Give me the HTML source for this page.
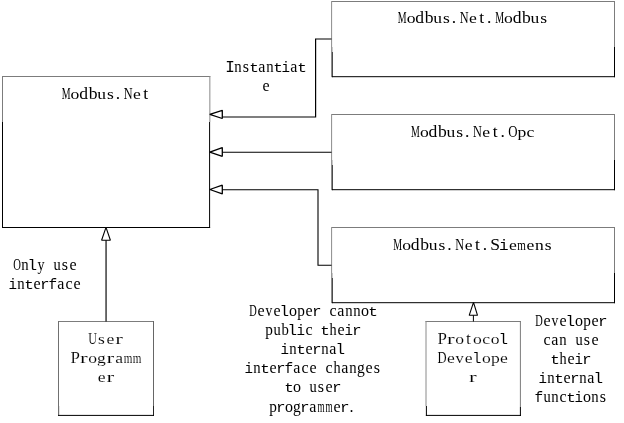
<!DOCTYPE html>
<html><head><meta charset="utf-8"><style>
html,body{margin:0;padding:0;background:#fff;}
body{width:624px;height:423px;overflow:hidden;}
svg{display:block;filter:grayscale(1);}
</style></head><body>
<svg width="624" height="423" viewBox="0 0 624 423" shape-rendering="auto" font-family="'Liberation Serif', serif">
<rect width="624" height="423" fill="#fff"/>
<line x1="2" y1="76.5" x2="210.3" y2="76.5" stroke="#7c7c7c" stroke-width="1.0"/>
<line x1="2.5" y1="76" x2="2.5" y2="122" stroke="#7c7c7c" stroke-width="1.0"/>
<line x1="209.85" y1="76" x2="209.85" y2="122" stroke="#8a8a8a" stroke-width="1.0"/>
<line x1="2.5" y1="122" x2="2.5" y2="228" stroke="#000" stroke-width="1.0"/>
<line x1="209.6" y1="122" x2="209.6" y2="228" stroke="#000" stroke-width="1.0"/>
<line x1="2" y1="227.5" x2="210.1" y2="227.5" stroke="#000" stroke-width="1.0"/>
<line x1="331.3" y1="1.5" x2="615" y2="1.5" stroke="#7c7c7c" stroke-width="1.0"/>
<line x1="331.6" y1="1.5" x2="331.6" y2="76.7" stroke="#8c8c8c" stroke-width="1.0"/>
<line x1="614.5" y1="1.5" x2="614.5" y2="47" stroke="#7c7c7c" stroke-width="1.0"/>
<line x1="332.5" y1="47" x2="332.5" y2="52" stroke="#c8c8c8" stroke-width="1.0"/>
<line x1="332.4" y1="52" x2="332.4" y2="77.2" stroke="#383838" stroke-width="1.0"/>
<line x1="614.5" y1="47" x2="614.5" y2="77.2" stroke="#000" stroke-width="1.0"/>
<line x1="331.8" y1="76.7" x2="615" y2="76.7" stroke="#000" stroke-width="1.0"/>
<line x1="331.3" y1="114.5" x2="615" y2="114.5" stroke="#7c7c7c" stroke-width="1.0"/>
<line x1="331.6" y1="114.5" x2="331.6" y2="189.7" stroke="#8c8c8c" stroke-width="1.0"/>
<line x1="614.5" y1="114.5" x2="614.5" y2="160" stroke="#7c7c7c" stroke-width="1.0"/>
<line x1="332.5" y1="160" x2="332.5" y2="165" stroke="#c8c8c8" stroke-width="1.0"/>
<line x1="332.4" y1="165" x2="332.4" y2="190.2" stroke="#383838" stroke-width="1.0"/>
<line x1="614.5" y1="160" x2="614.5" y2="190.2" stroke="#000" stroke-width="1.0"/>
<line x1="331.8" y1="189.7" x2="615" y2="189.7" stroke="#000" stroke-width="1.0"/>
<line x1="331.3" y1="227.5" x2="615" y2="227.5" stroke="#7c7c7c" stroke-width="1.0"/>
<line x1="331.6" y1="227.5" x2="331.6" y2="302.7" stroke="#8c8c8c" stroke-width="1.0"/>
<line x1="614.5" y1="227.5" x2="614.5" y2="273" stroke="#7c7c7c" stroke-width="1.0"/>
<line x1="332.5" y1="273" x2="332.5" y2="278" stroke="#c8c8c8" stroke-width="1.0"/>
<line x1="332.4" y1="278" x2="332.4" y2="303.2" stroke="#383838" stroke-width="1.0"/>
<line x1="614.5" y1="273" x2="614.5" y2="303.2" stroke="#000" stroke-width="1.0"/>
<line x1="331.8" y1="302.7" x2="615" y2="302.7" stroke="#000" stroke-width="1.0"/>
<line x1="58" y1="321.5" x2="154" y2="321.5" stroke="#7c7c7c" stroke-width="1.0"/>
<line x1="58.5" y1="321" x2="58.5" y2="415.5" stroke="#707070" stroke-width="1.0"/>
<line x1="153.5" y1="321" x2="153.5" y2="406" stroke="#666" stroke-width="1.0"/>
<line x1="59.5" y1="406" x2="59.5" y2="415" stroke="#e4e4e4" stroke-width="1.0"/>
<line x1="153.5" y1="406" x2="153.5" y2="415.9" stroke="#222" stroke-width="1.0"/>
<line x1="58" y1="415.4" x2="154" y2="415.4" stroke="#000" stroke-width="1.0"/>
<line x1="425.5" y1="321.5" x2="521" y2="321.5" stroke="#7c7c7c" stroke-width="1.0"/>
<line x1="426.0" y1="321" x2="426.0" y2="406" stroke="#8a8a8a" stroke-width="1.0"/>
<line x1="520.4" y1="321" x2="520.4" y2="407" stroke="#7c7c7c" stroke-width="1.0"/>
<line x1="426.4" y1="406" x2="426.4" y2="415.9" stroke="#000" stroke-width="1.0"/>
<line x1="520.4" y1="407" x2="520.4" y2="415.9" stroke="#000" stroke-width="1.0"/>
<line x1="425.9" y1="415.4" x2="521" y2="415.4" stroke="#000" stroke-width="1.0"/>
<polyline points="331.5,39 315.6,39 315.6,117 222,117" fill="none" stroke="#000" stroke-width="1.2" stroke-linejoin="miter"/>
<line x1="222" y1="152.3" x2="331.5" y2="152.3" stroke="#000" stroke-width="1.1"/>
<polyline points="222,189.7 318,189.7 318,265.3 331.5,265.3" fill="none" stroke="#000" stroke-width="1.1" stroke-linejoin="miter"/>
<line x1="106.05" y1="240" x2="106.05" y2="321.5" stroke="#000" stroke-width="1.15"/>
<line x1="473.4" y1="315" x2="473.4" y2="321.5" stroke="#000" stroke-width="1.0"/>
<polygon points="209.8,114.3 222.3,110.3 222.3,118.5" fill="#fff" stroke="#000" stroke-width="1.3" stroke-linejoin="miter" stroke-miterlimit="1"/>
<polygon points="209.8,152.2 222.3,147.6 222.3,156.3" fill="#fff" stroke="#000" stroke-width="1.3" stroke-linejoin="miter" stroke-miterlimit="1"/>
<polygon points="209.8,189.5 222.3,185.2 222.3,193.9" fill="#fff" stroke="#000" stroke-width="1.3" stroke-linejoin="miter" stroke-miterlimit="1"/>
<polygon points="106,227.4 101.6,240.2 110.4,240.2" fill="#fff" stroke="#000" stroke-width="1.1" stroke-linejoin="miter" stroke-miterlimit="1"/>
<polygon points="473.5,302.4 469.2,315.3 477.5,315.3" fill="#fff" stroke="#000" stroke-width="1.1" stroke-linejoin="miter" stroke-miterlimit="1"/>
<g font-size="16" fill="#000"><text transform="translate(61.77,98.7) scale(0.619,1.000)">M</text><text transform="translate(70.62,98.7) scale(1.100,0.880)">o</text><text transform="translate(79.26,98.7) scale(1.100,1.000)">d</text><text transform="translate(88.66,98.7) scale(1.100,1.000)">b</text><text transform="translate(97.23,98.7) scale(1.095,0.880)">u</text><text transform="translate(106.96,98.7) scale(1.100,0.880)">s</text><text transform="translate(115.67,98.7) scale(1.100,1.000)">.</text><text transform="translate(123.66,98.7) scale(0.767,1.000)">N</text><text transform="translate(133.03,98.7) scale(1.100,0.880)">e</text><text transform="translate(143.35,98.7) scale(1.100,1.000)">t</text></g>
<g font-size="16" fill="#000"><text transform="translate(397.80,22.9) scale(0.619,1.000)">M</text><text transform="translate(406.65,22.9) scale(1.100,0.880)">o</text><text transform="translate(415.29,22.9) scale(1.100,1.000)">d</text><text transform="translate(424.69,22.9) scale(1.100,1.000)">b</text><text transform="translate(433.25,22.9) scale(1.095,0.880)">u</text><text transform="translate(442.98,22.9) scale(1.100,0.880)">s</text><text transform="translate(451.70,22.9) scale(1.100,1.000)">.</text><text transform="translate(459.68,22.9) scale(0.767,1.000)">N</text><text transform="translate(469.06,22.9) scale(1.100,0.880)">e</text><text transform="translate(479.37,22.9) scale(1.100,1.000)">t</text><text transform="translate(487.10,22.9) scale(1.100,1.000)">.</text><text transform="translate(495.15,22.9) scale(0.619,1.000)">M</text><text transform="translate(504.00,22.9) scale(1.100,0.880)">o</text><text transform="translate(512.64,22.9) scale(1.100,1.000)">d</text><text transform="translate(522.04,22.9) scale(1.100,1.000)">b</text><text transform="translate(530.60,22.9) scale(1.095,0.880)">u</text><text transform="translate(540.33,22.9) scale(1.100,0.880)">s</text></g>
<g font-size="16" fill="#000"><text transform="translate(411.07,136.5) scale(0.619,1.000)">M</text><text transform="translate(419.93,136.5) scale(1.100,0.880)">o</text><text transform="translate(428.56,136.5) scale(1.100,1.000)">d</text><text transform="translate(437.96,136.5) scale(1.100,1.000)">b</text><text transform="translate(446.53,136.5) scale(1.095,0.880)">u</text><text transform="translate(456.26,136.5) scale(1.100,0.880)">s</text><text transform="translate(464.98,136.5) scale(1.100,1.000)">.</text><text transform="translate(472.96,136.5) scale(0.767,1.000)">N</text><text transform="translate(482.33,136.5) scale(1.100,0.880)">e</text><text transform="translate(492.65,136.5) scale(1.100,1.000)">t</text><text transform="translate(500.38,136.5) scale(1.100,1.000)">.</text><text transform="translate(508.18,136.5) scale(0.804,1.000)">O</text><text transform="translate(517.48,136.5) scale(1.100,0.880)">p</text><text transform="translate(526.55,136.5) scale(1.100,0.880)">c</text></g>
<g font-size="16" fill="#000"><text transform="translate(393.37,249.9) scale(0.619,1.000)">M</text><text transform="translate(402.23,249.9) scale(1.100,0.880)">o</text><text transform="translate(410.86,249.9) scale(1.100,1.000)">d</text><text transform="translate(420.26,249.9) scale(1.100,1.000)">b</text><text transform="translate(428.83,249.9) scale(1.095,0.880)">u</text><text transform="translate(438.56,249.9) scale(1.100,0.880)">s</text><text transform="translate(447.28,249.9) scale(1.100,1.000)">.</text><text transform="translate(455.26,249.9) scale(0.767,1.000)">N</text><text transform="translate(464.63,249.9) scale(1.100,0.880)">e</text><text transform="translate(474.95,249.9) scale(1.100,1.000)">t</text><text transform="translate(482.68,249.9) scale(1.100,1.000)">.</text><text transform="translate(490.19,249.9) scale(1.100,1.000)">S</text><text transform="translate(499.02,249.9) scale(1.000,0.920)" font-family="'Liberation Mono', monospace">i</text><text transform="translate(508.88,249.9) scale(1.100,0.880)">e</text><text transform="translate(517.33,249.9) scale(0.694,0.880)">m</text><text transform="translate(526.58,249.9) scale(1.100,0.880)">e</text><text transform="translate(534.91,249.9) scale(1.100,0.880)">n</text><text transform="translate(544.76,249.9) scale(1.100,0.880)">s</text></g>
<g font-size="16" fill="#000" stroke="#fff" stroke-width="0.12"><text transform="translate(88.36,343.7) scale(0.756,1.000)">U</text><text transform="translate(98.11,343.7) scale(1.100,0.880)">s</text><text transform="translate(106.48,343.7) scale(1.100,0.880)">e</text><text transform="translate(115.28,343.7) scale(1.450,0.880)">r</text></g>
<g font-size="16" fill="#000" stroke="#fff" stroke-width="0.12"><text transform="translate(70.42,362.6) scale(1.056,1.000)">P</text><text transform="translate(79.88,362.6) scale(1.450,0.880)">r</text><text transform="translate(88.32,362.6) scale(1.100,0.880)">o</text><text transform="translate(96.96,362.6) scale(1.100,0.880)">g</text><text transform="translate(106.43,362.6) scale(1.450,0.880)">r</text><text transform="translate(115.18,362.6) scale(1.100,0.880)">a</text><text transform="translate(123.78,362.6) scale(0.694,0.880)">m</text><text transform="translate(132.63,362.6) scale(0.694,0.880)">m</text></g>
<g font-size="16" fill="#000" stroke="#fff" stroke-width="0.12"><text transform="translate(97.63,381.8) scale(1.100,0.880)">e</text><text transform="translate(106.43,381.8) scale(1.450,0.880)">r</text></g>
<g font-size="16" fill="#000" stroke="#fff" stroke-width="0.12"><text transform="translate(437.42,343.7) scale(1.056,1.000)">P</text><text transform="translate(446.88,343.7) scale(1.450,0.880)">r</text><text transform="translate(455.33,343.7) scale(1.100,0.880)">o</text><text transform="translate(466.10,343.7) scale(1.100,1.000)">t</text><text transform="translate(473.03,343.7) scale(1.100,0.880)">o</text><text transform="translate(482.30,343.7) scale(1.100,0.880)">c</text><text transform="translate(490.73,343.7) scale(1.100,0.880)">o</text><text transform="translate(498.57,343.7) scale(1.000,0.920)" font-family="'Liberation Mono', monospace">l</text></g>
<g font-size="16" fill="#000" stroke="#fff" stroke-width="0.12"><text transform="translate(437.55,362.6) scale(0.787,1.000)">D</text><text transform="translate(446.93,362.6) scale(1.100,0.880)">e</text><text transform="translate(455.61,362.6) scale(1.029,0.880)">v</text><text transform="translate(464.63,362.6) scale(1.100,0.880)">e</text><text transform="translate(472.02,362.6) scale(1.000,0.920)" font-family="'Liberation Mono', monospace">l</text><text transform="translate(481.88,362.6) scale(1.100,0.880)">o</text><text transform="translate(490.93,362.6) scale(1.100,0.880)">p</text><text transform="translate(500.03,362.6) scale(1.100,0.880)">e</text></g>
<g font-size="16" fill="#000" stroke="#fff" stroke-width="0.12"><text transform="translate(469.01,382.1) scale(1.450,0.880)">r</text></g>
<g font-size="16" fill="#000"><text x="225.21" y="71.8" font-family="'Liberation Mono', monospace">I</text><text transform="translate(234.26,71.8) scale(0.920,1.000)">n</text><text x="242.85" y="71.8">s</text><text transform="translate(249.29,71.8) scale(1.000,0.845)" font-family="'Liberation Mono', monospace">t</text><text x="258.28" y="71.8">a</text><text transform="translate(266.26,71.8) scale(0.920,1.000)">n</text><text transform="translate(273.29,71.8) scale(1.000,0.845)" font-family="'Liberation Mono', monospace">t</text><text transform="translate(281.61,71.8) scale(0.886,0.920)" font-family="'Liberation Mono', monospace">i</text><text x="290.28" y="71.8">a</text><text transform="translate(297.29,71.8) scale(1.000,0.845)" font-family="'Liberation Mono', monospace">t</text></g>
<g font-size="16" fill="#000"><text x="262.41" y="90.6">e</text></g>
<g font-size="16" fill="#000"><text transform="translate(13.16,270) scale(0.664,1.000)">O</text><text transform="translate(21.26,270) scale(0.920,1.000)">n</text><text transform="translate(27.60,270) scale(1.000,0.920)" font-family="'Liberation Mono', monospace">l</text><text transform="translate(37.43,270) scale(0.878,1.000)">y</text><text transform="translate(53.41,270) scale(0.905,1.000)">u</text><text x="61.85" y="270">s</text><text x="69.41" y="270">e</text></g>
<g font-size="16" fill="#000"><text transform="translate(8.61,288.8) scale(0.886,0.920)" font-family="'Liberation Mono', monospace">i</text><text transform="translate(17.26,288.8) scale(0.920,1.000)">n</text><text transform="translate(24.29,288.8) scale(1.000,0.845)" font-family="'Liberation Mono', monospace">t</text><text x="33.41" y="288.8">e</text><text transform="translate(39.97,288.8) scale(1.000,0.876)" font-family="'Liberation Mono', monospace">r</text><text transform="translate(48.62,288.8) scale(0.906,0.920)" font-family="'Liberation Mono', monospace">f</text><text x="57.28" y="288.8">a</text><text x="65.39" y="288.8">c</text><text x="73.41" y="288.8">e</text></g>
<g font-size="16" fill="#000"><text transform="translate(249.30,315.8) scale(0.651,1.000)">D</text><text x="257.41" y="315.8">e</text><text transform="translate(265.60,315.8) scale(0.850,1.000)">v</text><text x="273.41" y="315.8">e</text><text transform="translate(279.60,315.8) scale(1.000,0.920)" font-family="'Liberation Mono', monospace">l</text><text x="289.00" y="315.8">o</text><text transform="translate(297.35,315.8) scale(0.955,1.000)">p</text><text x="305.41" y="315.8">e</text><text transform="translate(311.97,315.8) scale(1.000,0.876)" font-family="'Liberation Mono', monospace">r</text><text x="329.39" y="315.8">c</text><text x="337.28" y="315.8">a</text><text transform="translate(345.26,315.8) scale(0.920,1.000)">n</text><text transform="translate(353.26,315.8) scale(0.920,1.000)">n</text><text x="361.00" y="315.8">o</text><text transform="translate(368.29,315.8) scale(1.000,0.845)" font-family="'Liberation Mono', monospace">t</text></g>
<g font-size="16" fill="#000"><text transform="translate(265.35,334.95) scale(0.955,1.000)">p</text><text transform="translate(273.41,334.95) scale(0.905,1.000)">u</text><text transform="translate(281.60,334.95) scale(0.920,1.000)">b</text><text transform="translate(287.60,334.95) scale(1.000,0.920)" font-family="'Liberation Mono', monospace">l</text><text transform="translate(296.61,334.95) scale(0.886,0.920)" font-family="'Liberation Mono', monospace">i</text><text x="305.39" y="334.95">c</text><text transform="translate(320.29,334.95) scale(1.000,0.845)" font-family="'Liberation Mono', monospace">t</text><text transform="translate(329.46,334.95) scale(0.891,1.000)">h</text><text x="337.41" y="334.95">e</text><text transform="translate(344.61,334.95) scale(0.886,0.920)" font-family="'Liberation Mono', monospace">i</text><text transform="translate(351.97,334.95) scale(1.000,0.876)" font-family="'Liberation Mono', monospace">r</text></g>
<g font-size="16" fill="#000"><text transform="translate(280.61,354.1) scale(0.886,0.920)" font-family="'Liberation Mono', monospace">i</text><text transform="translate(289.26,354.1) scale(0.920,1.000)">n</text><text transform="translate(296.29,354.1) scale(1.000,0.845)" font-family="'Liberation Mono', monospace">t</text><text x="305.41" y="354.1">e</text><text transform="translate(311.97,354.1) scale(1.000,0.876)" font-family="'Liberation Mono', monospace">r</text><text transform="translate(321.26,354.1) scale(0.920,1.000)">n</text><text x="329.28" y="354.1">a</text><text transform="translate(335.60,354.1) scale(1.000,0.920)" font-family="'Liberation Mono', monospace">l</text></g>
<g font-size="16" fill="#000"><text transform="translate(244.61,373.25) scale(0.886,0.920)" font-family="'Liberation Mono', monospace">i</text><text transform="translate(253.26,373.25) scale(0.920,1.000)">n</text><text transform="translate(260.29,373.25) scale(1.000,0.845)" font-family="'Liberation Mono', monospace">t</text><text x="269.41" y="373.25">e</text><text transform="translate(275.97,373.25) scale(1.000,0.876)" font-family="'Liberation Mono', monospace">r</text><text transform="translate(284.62,373.25) scale(0.906,0.920)" font-family="'Liberation Mono', monospace">f</text><text x="293.28" y="373.25">a</text><text x="301.39" y="373.25">c</text><text x="309.41" y="373.25">e</text><text x="325.39" y="373.25">c</text><text transform="translate(333.46,373.25) scale(0.891,1.000)">h</text><text x="341.28" y="373.25">a</text><text transform="translate(349.26,373.25) scale(0.920,1.000)">n</text><text transform="translate(356.93,373.25) scale(0.970,1.000)">g</text><text x="365.41" y="373.25">e</text><text x="373.85" y="373.25">s</text></g>
<g font-size="16" fill="#000"><text transform="translate(284.29,392.4) scale(1.000,0.845)" font-family="'Liberation Mono', monospace">t</text><text x="293.00" y="392.4">o</text><text transform="translate(309.41,392.4) scale(0.905,1.000)">u</text><text x="317.85" y="392.4">s</text><text x="325.41" y="392.4">e</text><text transform="translate(331.97,392.4) scale(1.000,0.876)" font-family="'Liberation Mono', monospace">r</text></g>
<g font-size="16" fill="#000"><text transform="translate(269.35,411.55) scale(0.955,1.000)">p</text><text transform="translate(275.97,411.55) scale(1.000,0.876)" font-family="'Liberation Mono', monospace">r</text><text x="285.00" y="411.55">o</text><text transform="translate(292.93,411.55) scale(0.970,1.000)">g</text><text transform="translate(299.97,411.55) scale(1.000,0.876)" font-family="'Liberation Mono', monospace">r</text><text x="309.28" y="411.55">a</text><text transform="translate(317.41,411.55) scale(0.573,1.000)">m</text><text transform="translate(325.41,411.55) scale(0.573,1.000)">m</text><text x="333.41" y="411.55">e</text><text transform="translate(339.97,411.55) scale(1.000,0.876)" font-family="'Liberation Mono', monospace">r</text><text x="349.60" y="411.55">.</text></g>
<g font-size="16" fill="#000"><text transform="translate(535.30,326.0) scale(0.651,1.000)">D</text><text x="543.41" y="326.0">e</text><text transform="translate(551.60,326.0) scale(0.850,1.000)">v</text><text x="559.41" y="326.0">e</text><text transform="translate(565.60,326.0) scale(1.000,0.920)" font-family="'Liberation Mono', monospace">l</text><text x="575.00" y="326.0">o</text><text transform="translate(583.35,326.0) scale(0.955,1.000)">p</text><text x="591.41" y="326.0">e</text><text transform="translate(597.97,326.0) scale(1.000,0.876)" font-family="'Liberation Mono', monospace">r</text></g>
<g font-size="16" fill="#000"><text x="543.39" y="345.1">c</text><text x="551.28" y="345.1">a</text><text transform="translate(559.26,345.1) scale(0.920,1.000)">n</text><text transform="translate(575.41,345.1) scale(0.905,1.000)">u</text><text x="583.85" y="345.1">s</text><text x="591.41" y="345.1">e</text></g>
<g font-size="16" fill="#000"><text transform="translate(550.29,364.2) scale(1.000,0.845)" font-family="'Liberation Mono', monospace">t</text><text transform="translate(559.46,364.2) scale(0.891,1.000)">h</text><text x="567.41" y="364.2">e</text><text transform="translate(574.61,364.2) scale(0.886,0.920)" font-family="'Liberation Mono', monospace">i</text><text transform="translate(581.97,364.2) scale(1.000,0.876)" font-family="'Liberation Mono', monospace">r</text></g>
<g font-size="16" fill="#000"><text transform="translate(538.61,383.3) scale(0.886,0.920)" font-family="'Liberation Mono', monospace">i</text><text transform="translate(547.26,383.3) scale(0.920,1.000)">n</text><text transform="translate(554.29,383.3) scale(1.000,0.845)" font-family="'Liberation Mono', monospace">t</text><text x="563.41" y="383.3">e</text><text transform="translate(569.97,383.3) scale(1.000,0.876)" font-family="'Liberation Mono', monospace">r</text><text transform="translate(579.26,383.3) scale(0.920,1.000)">n</text><text x="587.28" y="383.3">a</text><text transform="translate(593.60,383.3) scale(1.000,0.920)" font-family="'Liberation Mono', monospace">l</text></g>
<g font-size="16" fill="#000"><text transform="translate(534.62,402.4) scale(0.906,0.920)" font-family="'Liberation Mono', monospace">f</text><text transform="translate(543.41,402.4) scale(0.905,1.000)">u</text><text transform="translate(551.26,402.4) scale(0.920,1.000)">n</text><text x="559.39" y="402.4">c</text><text transform="translate(566.29,402.4) scale(1.000,0.845)" font-family="'Liberation Mono', monospace">t</text><text transform="translate(574.61,402.4) scale(0.886,0.920)" font-family="'Liberation Mono', monospace">i</text><text x="583.00" y="402.4">o</text><text transform="translate(591.26,402.4) scale(0.920,1.000)">n</text><text x="599.85" y="402.4">s</text></g>
</svg>
</body></html>
